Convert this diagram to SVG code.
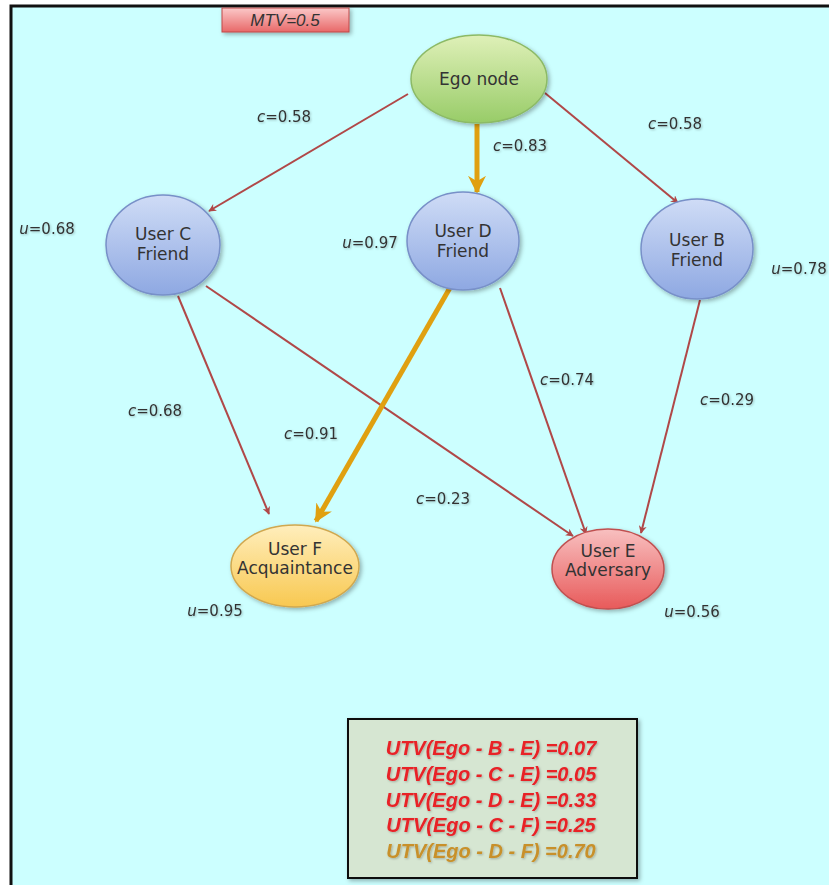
<svg xmlns="http://www.w3.org/2000/svg" width="829" height="885" viewBox="0 0 829 885">
<defs>
<linearGradient id="gGreen" x1="0" y1="0" x2="0" y2="1"><stop offset="0" stop-color="#dff0b8"/><stop offset="1" stop-color="#98cc68"/></linearGradient>
<linearGradient id="gBlue" x1="0" y1="0" x2="0" y2="1"><stop offset="0" stop-color="#cfdcf6"/><stop offset="1" stop-color="#8ea8e2"/></linearGradient>
<linearGradient id="gYellow" x1="0" y1="0" x2="0" y2="1"><stop offset="0" stop-color="#ffeebc"/><stop offset="1" stop-color="#f8c850"/></linearGradient>
<linearGradient id="gRed" x1="0" y1="0" x2="0" y2="1"><stop offset="0" stop-color="#f8c0c0"/><stop offset="1" stop-color="#e85a5a"/></linearGradient>
<linearGradient id="gMtv" x1="0" y1="0" x2="0" y2="1"><stop offset="0" stop-color="#fbc8c8"/><stop offset="1" stop-color="#e86868"/></linearGradient>
<filter id="sh" x="-20%" y="-20%" width="150%" height="150%"><feDropShadow dx="2" dy="2" stdDeviation="2" flood-color="#000" flood-opacity="0.3"/></filter>
<filter id="tsh" x="-10%" y="-20%" width="130%" height="160%"><feDropShadow dx="1" dy="1" stdDeviation="0.8" flood-color="#000" flood-opacity="0.25"/></filter>
<marker id="arR" viewBox="0 0 10 10" refX="9" refY="5" markerWidth="8" markerHeight="8" orient="auto" markerUnits="userSpaceOnUse"><path d="M0,0 L10,5 L0,10 L3,5 z" fill="#b04848"/></marker>
<marker id="arO" viewBox="0 0 10 10" refX="9" refY="5" markerWidth="18" markerHeight="18" orient="auto" markerUnits="userSpaceOnUse"><path d="M0,0 L10,5 L0,10 L3,5 z" fill="#e0a010"/></marker>
</defs>
<style>
.node{stroke-width:1.5;filter:url(#sh)}
.lbl{font-family:"DejaVu Sans",Verdana,sans-serif;font-size:17px;fill:#333;text-anchor:middle}
.el{font-family:"DejaVu Sans",Verdana,sans-serif;font-size:15px;fill:#333;text-anchor:middle;filter:url(#tsh)}
.e{stroke:#b04848;stroke-width:2;fill:none;marker-end:url(#arR)}
.eo{stroke:#e0a010;stroke-width:5;fill:none;marker-end:url(#arO)}
.utv{font-family:"Liberation Sans",Arial,sans-serif;font-size:20px;font-weight:bold;font-style:italic;fill:#e82028;text-anchor:middle;filter:url(#tsh)}
</style>
<rect x="0" y="0" width="829" height="885" fill="#ffffff"/>
<rect x="11" y="6" width="830" height="890" fill="#ccffff" stroke="#111" stroke-width="3"/>
<g id="connectors">
<line class="e" x1="408" y1="94" x2="209" y2="211"/>
<line class="eo" x1="477" y1="124" x2="477" y2="192"/>
<line class="e" x1="545" y1="93" x2="678" y2="203"/>
<line class="e" x1="178" y1="296" x2="269" y2="514"/>
<line class="e" x1="206" y1="286" x2="573" y2="536"/>
<line class="eo" x1="451" y1="286" x2="316" y2="521"/>
<line class="e" x1="500" y1="288" x2="586" y2="534"/>
<line class="e" x1="700" y1="300" x2="641" y2="533"/>
</g>
<g id="mtv">
<rect x="222" y="8" width="127" height="24" fill="url(#gMtv)" stroke="#c04848" stroke-width="1" filter="url(#sh)"/>
<text x="285" y="26" style="font-family:'Liberation Sans',Arial,sans-serif;font-size:17px;font-style:italic;fill:#333;text-anchor:middle">MTV=0.5</text>
</g>
<g id="ego"><ellipse class="node" cx="479" cy="79" rx="68" ry="44" fill="url(#gGreen)" stroke="#8cba66"/><text class="lbl" x="479" y="85">Ego node</text></g>
<g id="userC"><ellipse class="node" cx="163" cy="245" rx="57" ry="50" fill="url(#gBlue)" stroke="#7890c8"/><text class="lbl" x="163" y="240">User C</text><text class="lbl" x="163" y="260">Friend</text></g>
<g id="userD"><ellipse class="node" cx="463" cy="241" rx="56" ry="49" fill="url(#gBlue)" stroke="#7890c8"/><text class="lbl" x="463" y="237">User D</text><text class="lbl" x="463" y="257">Friend</text></g>
<g id="userB"><ellipse class="node" cx="697" cy="249" rx="56" ry="50" fill="url(#gBlue)" stroke="#7890c8"/><text class="lbl" x="697" y="246">User B</text><text class="lbl" x="697" y="266">Friend</text></g>
<g id="userF"><ellipse class="node" cx="295" cy="566" rx="64" ry="41" fill="url(#gYellow)" stroke="#d0a850"/><text class="lbl" x="295" y="555">User F</text><text class="lbl" x="295" y="574">Acquaintance</text></g>
<g id="userE"><ellipse class="node" cx="608" cy="569" rx="56" ry="40" fill="url(#gRed)" stroke="#c05050"/><text class="lbl" x="608" y="557">User E</text><text class="lbl" x="608" y="576">Adversary</text></g>
<g id="labels">
<text class="el" x="284" y="122"><tspan font-style="italic">c</tspan>=0.58</text>
<text class="el" x="520" y="151"><tspan font-style="italic">c</tspan>=0.83</text>
<text class="el" x="675" y="129"><tspan font-style="italic">c</tspan>=0.58</text>
<text class="el" x="47" y="234"><tspan font-style="italic">u</tspan>=0.68</text>
<text class="el" x="370" y="248"><tspan font-style="italic">u</tspan>=0.97</text>
<text class="el" x="799" y="274"><tspan font-style="italic">u</tspan>=0.78</text>
<text class="el" x="155" y="416"><tspan font-style="italic">c</tspan>=0.68</text>
<text class="el" x="311" y="439"><tspan font-style="italic">c</tspan>=0.91</text>
<text class="el" x="567" y="385"><tspan font-style="italic">c</tspan>=0.74</text>
<text class="el" x="727" y="405"><tspan font-style="italic">c</tspan>=0.29</text>
<text class="el" x="443" y="504"><tspan font-style="italic">c</tspan>=0.23</text>
<text class="el" x="215" y="616"><tspan font-style="italic">u</tspan>=0.95</text>
<text class="el" x="692" y="617"><tspan font-style="italic">u</tspan>=0.56</text>
</g>
<g id="utvBox">
<rect x="348" y="719" width="289" height="159" fill="#d6e6d2" stroke="#111" stroke-width="2" filter="url(#sh)"/>
<text class="utv" x="491" y="755">UTV(Ego - B - E) =0.07</text>
<text class="utv" x="491" y="781">UTV(Ego - C - E) =0.05</text>
<text class="utv" x="491" y="807">UTV(Ego - D - E) =0.33</text>
<text class="utv" x="491" y="832">UTV(Ego - C - F) =0.25</text>
<text class="utv" x="491" y="858" style="fill:#c8902a">UTV(Ego - D - F) =0.70</text>
</g>
</svg>
